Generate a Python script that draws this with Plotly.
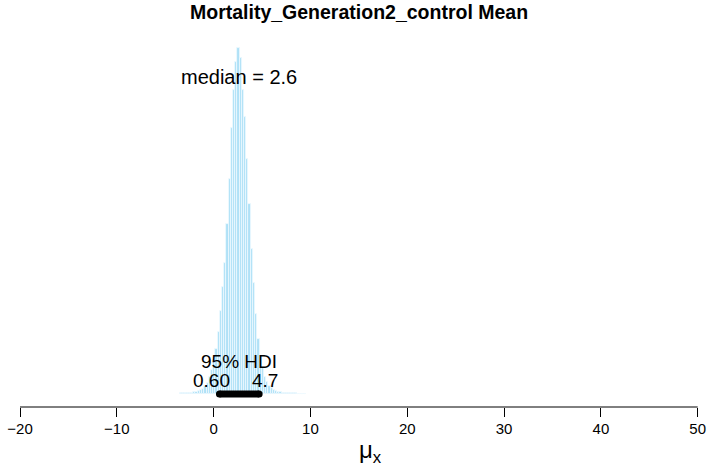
import plotly.graph_objects as go

# Histogram of posterior samples (relative density), bin width ~0.228
bin_start = -3.47
bin_width = 0.228
heights = [0.002, 0.002, 0.003, 0.003, 0.004, 0.004, 0.005, 0.006, 0.008, 0.011,
           0.015, 0.022, 0.033, 0.048, 0.068, 0.095, 0.13, 0.18, 0.24, 0.31,
           0.38, 0.49, 0.62, 0.77, 0.88, 0.96, 1.00, 0.97, 0.88, 0.80,
           0.68, 0.55, 0.42, 0.32, 0.23, 0.16, 0.11, 0.075, 0.050, 0.034,
           0.023, 0.016, 0.011, 0.008, 0.006, 0.005, 0.004, 0.003, 0.003, 0.002,
           0.002, 0.002, 0.002, 0.001, 0.001, 0.001, 0.001]
centers = [bin_start + bin_width * (k + 0.5) for k in range(len(heights))]

median_val = 2.6
hdi_low, hdi_high = 0.60, 4.7
tick_vals = [-20, -10, 0, 10, 20, 30, 40, 50]
title_text = "Mortality_Generation2_control Mean"

FONT = "Liberation Sans, Arial, Helvetica, sans-serif"

W, H = 707, 471

fig = go.Figure()
fig.add_trace(go.Bar(
    x=centers, y=heights, width=bin_width,
    marker=dict(color="#b0e1f7", line=dict(color="#eef9fe", width=0.8)),
    hoverinfo="skip",
))
fig.add_trace(go.Scatter(
    x=[hdi_low, hdi_high], y=[0, 0], mode="lines+markers",
    line=dict(color="black", width=7),
    marker=dict(color="black", size=7),
    hoverinfo="skip",
))

# x axis line from -20 to 50
fig.add_shape(type="line", xref="x", yref="paper", x0=-20, x1=50, y0=0, y1=0,
              line=dict(color="black", width=1))

ann = [
    dict(x=median_val, y=0.915, xref="x", yref="y", text="median = 2.6",
         showarrow=False, font=dict(size=20, color="black", family=FONT)),
    dict(x=(hdi_low + hdi_high) / 2, y=0.095, xref="x", yref="y", text="95% HDI",
         showarrow=False, font=dict(size=19, color="black", family=FONT)),
    dict(x=hdi_low, y=0.038, xref="x", yref="y", text="0.60", xshift=-8,
         showarrow=False, font=dict(size=19, color="black", family=FONT)),
    dict(x=hdi_high, y=0.038, xref="x", yref="y", text="4.7", xshift=6,
         showarrow=False, font=dict(size=19, color="black", family=FONT)),
    dict(x=370 / W, y=0, xref="paper", yref="paper", yanchor="middle", yshift=-44,
         text="μ<sub>x</sub>",
         showarrow=False, font=dict(size=24, color="black", family=FONT)),
    dict(x=359 / W, y=1.0, xref="paper", yref="paper", yanchor="middle", yshift=18,
         text="<b>" + title_text + "</b>",
         showarrow=False, font=dict(size=19.5, color="black", family=FONT)),
]

scale = (697.7 - 20) / 70.0
a = -20 - 20 / scale
b = a + W / scale

fig.update_layout(
    width=W, height=H,
    margin=dict(l=0, r=0, t=30, b=64),
    paper_bgcolor="white", plot_bgcolor="white",
    showlegend=False,
    bargap=0,
    hovermode=False,
    annotations=ann,
    xaxis=dict(range=[a, b], tickvals=tick_vals, ticks="outside", ticklen=9,
               tickcolor="black", tickwidth=1, showgrid=False, zeroline=False,
               showline=False, automargin=False, ticklabelstandoff=-1,
               ticklabeloverflow="allow",
               tickfont=dict(size=15, color="black", family=FONT)),
    yaxis=dict(range=[-0.0376, 1.052], visible=False, showgrid=False,
               zeroline=False, automargin=False),
)

fig.write_html("out.html",
               config={"displayModeBar": False},
               post_script="document.body.style.margin='0';document.body.style.overflow='hidden';")
